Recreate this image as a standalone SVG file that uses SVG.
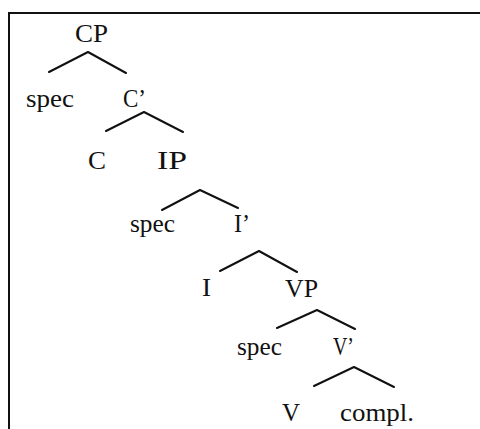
<svg xmlns="http://www.w3.org/2000/svg" width="480" height="429" viewBox="0 0 480 429">
<style>
text{font-family:"Liberation Serif","Times New Roman",serif;font-size:25px;fill:#111}
.e{fill:none;stroke:#111;stroke-width:2;stroke-linejoin:round;stroke-linecap:round}
.b{fill:none;stroke:#111;stroke-width:2}
</style>
<rect width="480" height="429" fill="#fff"/>
<path class="b" d="M9,430 V13 H480"/>
<g id="connectors">
<polyline class="e" points="49,72 88,52 126,73"/>
<polyline class="e" points="106,131 144,112 183,132"/>
<polyline class="e" points="162,210 200,190 238,208"/>
<polyline class="e" points="220,271 259,251 297,272"/>
<polyline class="e" points="277,328 317,310 355,329"/>
<polyline class="e" points="314,386 354,367 394,387"/>
</g>
<g id="CP"><text x="75" y="42" textLength="33" lengthAdjust="spacingAndGlyphs">CP</text></g>
<g id="spec1"><text x="26" y="107" textLength="48" lengthAdjust="spacingAndGlyphs">spec</text></g>
<g id="Cbar"><text x="123" y="107" textLength="23" lengthAdjust="spacingAndGlyphs">C’</text></g>
<g id="C"><text x="88" y="169" textLength="18" lengthAdjust="spacingAndGlyphs">C</text></g>
<g id="IP"><text x="157" y="169" textLength="30" lengthAdjust="spacingAndGlyphs">IP</text></g>
<g id="spec2"><text x="130" y="232" textLength="45" lengthAdjust="spacingAndGlyphs">spec</text></g>
<g id="Ibar"><text x="234" y="232" textLength="16" lengthAdjust="spacingAndGlyphs">I’</text></g>
<g id="I"><text x="202" y="296" textLength="9" lengthAdjust="spacingAndGlyphs">I</text></g>
<g id="VP"><text x="285" y="297" textLength="33" lengthAdjust="spacingAndGlyphs">VP</text></g>
<g id="spec3"><text x="237" y="355" textLength="45" lengthAdjust="spacingAndGlyphs">spec</text></g>
<g id="Vbar"><text x="333" y="355" textLength="21" lengthAdjust="spacingAndGlyphs">V’</text></g>
<g id="V"><text x="282" y="421" textLength="18" lengthAdjust="spacingAndGlyphs">V</text></g>
<g id="compl"><text x="340" y="421" textLength="74" lengthAdjust="spacingAndGlyphs">compl.</text></g>
</svg>
